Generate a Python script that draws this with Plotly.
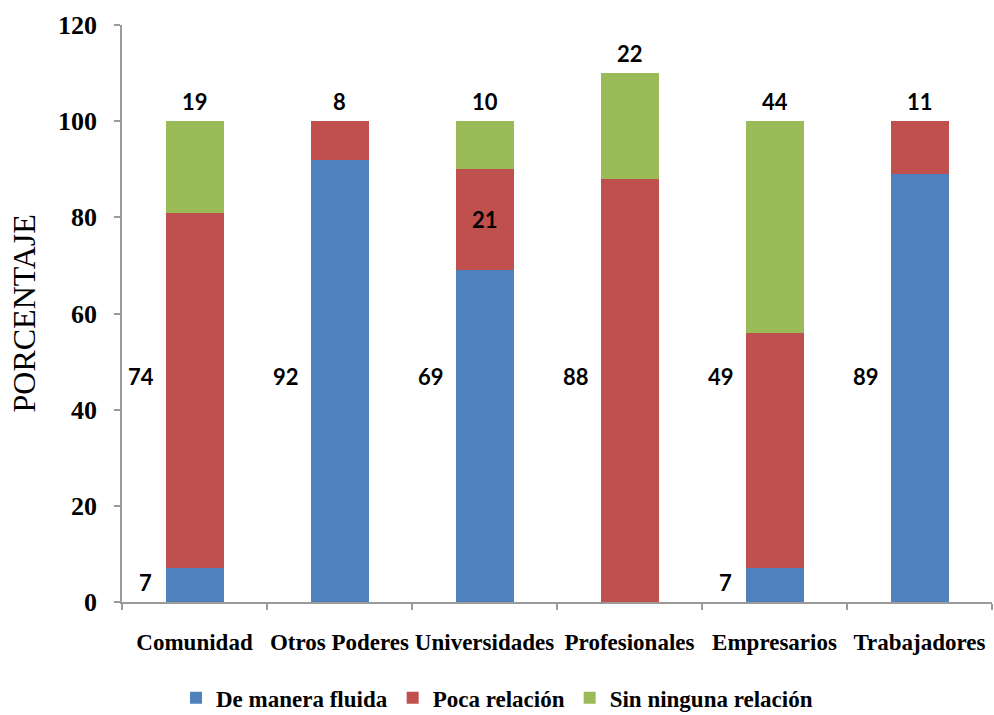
import plotly.graph_objects as go

# Categories and series (percentages)
categories = ["Comunidad", "Otros Poderes", "Universidades", "Profesionales", "Empresarios", "Trabajadores"]
fluida = [7, 92, 69, 0, 7, 89]
poca = [74, 8, 21, 88, 49, 11]
ninguna = [19, 0, 10, 22, 44, 0]
series_names = ["De manera fluida", "Poca relación", "Sin ninguna relación"]
y_ticks = [0, 20, 40, 60, 80, 100, 120]

colors = ["#4F81BD", "#C0504D", "#9BBB59"]
series = [fluida, poca, ninguna]

# where each value label sits: "top" above the bar, "mid" inside its segment,
# "side" to the left of the bar (upper), "low" to the left of the bar (bottom)
label_mode = {
    (0, 0): "low", (1, 0): "side", (2, 0): "top",
    (0, 1): "side", (1, 1): "top",
    (0, 2): "side", (1, 2): "mid", (2, 2): "top",
    (1, 3): "side", (2, 3): "top",
    (0, 4): "low", (1, 4): "side", (2, 4): "top",
    (0, 5): "side", (1, 5): "top",
}

serif = "Liberation Serif"
sans = "Lato"

fig = go.Figure()
for name, vals, col in zip(series_names, series, colors):
    fig.add_trace(go.Bar(
        x=categories, y=vals, name=name,
        marker=dict(color=col, line=dict(width=0)),
        hoverinfo="skip",
    ))

annotations = []
for (s, c), mode in label_mode.items():
    val = series[s][c]
    base = sum(series[k][c] for k in range(s))
    total = sum(series[k][c] for k in range(3))
    if mode == "top":
        y, yshift, xshift = total, 20, 0
    elif mode == "mid":
        y, yshift, xshift = base + val / 2, 0, 0
    elif mode == "side":
        y, yshift, xshift = 47, 0, -54
    else:
        y, yshift, xshift = 4, 0, -49
    annotations.append(dict(
        x=categories[c], y=y, xref="x", yref="y",
        text=str(val), showarrow=False,
        xanchor="center", yanchor="middle",
        xshift=xshift, yshift=yshift,
        font=dict(family=sans, size=22, color="#000000", weight="bold"),
    ))

annotations.append(dict(
    x=0, y=0.5, xref="paper", yref="paper", xshift=-99,
    text="PORCENTAJE", textangle=-90, showarrow=False,
    xanchor="center", yanchor="middle",
    font=dict(family=serif, size=32, color="#000000"),
))

fig.update_layout(
    barmode="stack",
    bargap=0.6,
    width=994, height=715,
    margin=dict(l=122, r=2, t=25, b=113, autoexpand=False),
    paper_bgcolor="white",
    plot_bgcolor="white",
    showlegend=True,
    legend=dict(
        orientation="h", x=0.431, y=-0.166,
        xanchor="center", yanchor="middle",
        traceorder="normal",
        font=dict(family=serif, size=23, color="#000000", weight="bold"),
        itemwidth=30, tracegroupgap=0,
    ),
    annotations=annotations,
    xaxis=dict(
        type="category",
        range=[-0.5, 5.5],
        automargin=False,
        showline=True, linecolor="#9A9A9A", linewidth=1.5,
        ticks="outside", tickson="boundaries", ticklen=6,
        tickcolor="#9A9A9A", tickwidth=1.5,
        tickfont=dict(family=serif, size=23, color="#000000", weight="bold"),
        ticklabelstandoff=19,
        tickangle=0,
        showgrid=False, zeroline=False,
        fixedrange=True,
    ),
    yaxis=dict(
        range=[0, 120], tickvals=y_ticks,
        automargin=False,
        showline=True, linecolor="#9A9A9A", linewidth=1.5,
        ticks="outside", ticklen=6, tickcolor="#9A9A9A", tickwidth=1.5,
        tickfont=dict(family=serif, size=26, color="#000000", weight="bold"),
        ticklabelstandoff=12,
        showgrid=False, zeroline=False,
        fixedrange=True,
    ),
)

fig.write_html("out.html")
